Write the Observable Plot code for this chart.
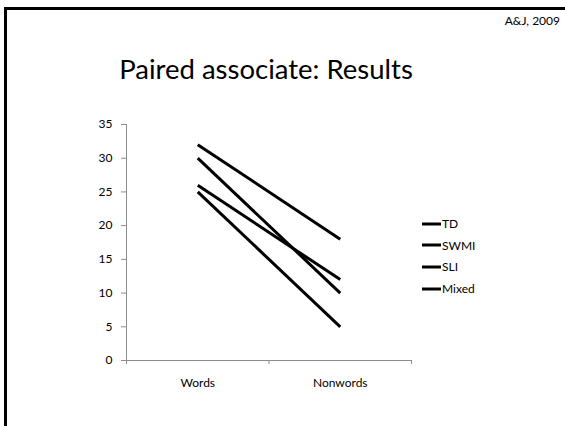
<!DOCTYPE html>
<html>
<head>
<meta charset="utf-8">
<script src="https://cdn.jsdelivr.net/npm/d3@7"></script>
<script src="https://cdn.jsdelivr.net/npm/@observablehq/plot@0.6"></script>
<style>
  html, body { margin: 0; padding: 0; background: #fff; }
  #slide {
    position: relative; width: 565px; height: 426px; overflow: hidden;
    font-family: Lato, "Open Sans", sans-serif; color: #000;
  }
  #frame {
    position: absolute; left: 4px; top: 7px; width: 600px; height: 500px;
    border-left: 3px solid #000; border-top: 3px solid #000;
  }
  #credit { position: absolute; right: 5px; top: 13px; font-size: 12px; }
  #title {
    position: absolute; left: 0; width: 532px; top: 52px; text-align: center;
    font-size: 27.5px;
  }
  #chart { position: absolute; left: 0; top: 110px; }
  #legend { position: absolute; left: 422px; top: 213px; font-size: 12px; }
  #legend .item { display: flex; align-items: center; height: 21.6px; }
  #legend svg { margin-right: 1px; }
</style>
</head>
<body>
<div id="slide">
  <div id="frame"></div>
  <div id="credit">A&amp;J, 2009</div>
  <div id="title">Paired associate: Results</div>
  <div id="chart"></div>
  <div id="legend"></div>
</div>
<script>
// Mean paired-associate scores per group, by item type
const conditions = ["Words", "Nonwords"];
const groups = ["TD", "SWMI", "SLI", "Mixed"];
const wordsScores = [32, 30, 26, 25];
const nonwordsScores = [18, 10, 12, 5];
const yTicks = [0, 5, 10, 15, 20, 25, 30, 35];

// One row per group × condition; x is the centre of each condition's slot
const rows = [];
groups.forEach((g, i) => {
  rows.push({group: g, slot: 0.5, score: wordsScores[i]});
  rows.push({group: g, slot: 1.5, score: nonwordsScores[i]});
});

const axisGrey = "#8c8c8c";
const plot = Plot.plot({
  width: 565,
  height: 280,
  marginLeft: 126,
  marginRight: 154,
  marginTop: 14,
  marginBottom: 30,
  style: {fontFamily: "Lato, 'Open Sans', sans-serif", fontSize: "12px", color: "#000", background: "transparent"},
  x: {domain: [0, conditions.length], axis: null},
  y: {domain: [0, 35], axis: null},
  marks: [
    // y axis
    Plot.ruleX([0], {stroke: axisGrey, strokeWidth: 1}),
    Plot.axisY({ticks: yTicks, tickSize: 5, tickPadding: 9, stroke: axisGrey, fill: "#000", label: null}),
    // x axis: boundary ticks and centred category labels
    Plot.ruleY([0], {stroke: axisGrey, strokeWidth: 1}),
    Plot.axisX({ticks: d3.range(conditions.length + 1), tickSize: 4, tickFormat: () => "", stroke: axisGrey, label: null}),
    Plot.axisX({ticks: conditions.map((c, i) => i + 0.5), tickSize: 0, tickPadding: 18,
                tickFormat: v => conditions[Math.floor(v)], fill: "#000", label: null}),
    // group lines
    Plot.line(rows, {x: "slot", y: "score", z: "group", stroke: "#000", strokeWidth: 3, strokeLinecap: "butt"})
  ]
});
document.getElementById("chart").appendChild(plot);

// Legend
const legend = d3.select("#legend");
groups.forEach(g => {
  const item = legend.append("div").attr("class", "item");
  const s = item.append("svg").attr("width", 19).attr("height", 6);
  s.append("line").attr("x1", 0).attr("x2", 19).attr("y1", 3).attr("y2", 3)
    .attr("stroke", "#000").attr("stroke-width", 3);
  item.append("span").text(g);
});
</script>
</body>
</html>
